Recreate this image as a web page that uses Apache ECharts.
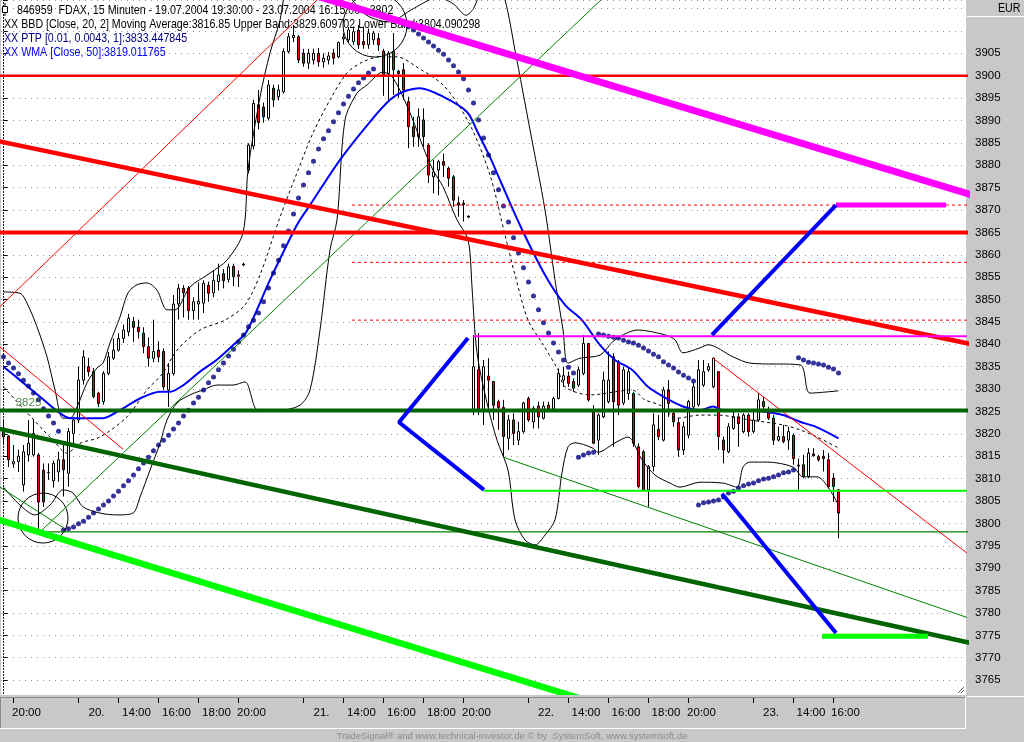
<!DOCTYPE html>
<html><head><meta charset="utf-8">
<script src="https://cdn.jsdelivr.net/npm/echarts@6/dist/echarts.min.js"></script>
<style>html,body{margin:0;padding:0;background:#c8c8c8;overflow:hidden}#c{width:1024px;height:742px}</style>
</head><body><div id="c"></div>
<script>
// ---------- DATA ----------
const barCount = 168;           // 15-minute bars shown
const slotCount = 193;          // category slots across the plot width (empty right margin)

const open = [3821.3,3819.5,3813.3,3813.8,3808.6,3815.3,3815.3,3815.3,3811.9,3811.3,
3809.5,3811.5,3814.2,3811.2,3820.1,3823.1,3832.0,3835.0,3833.9,3829.1,
3827.2,3833.5,3836.9,3838.7,3841.3,3842.8,3845.1,3843.8,3842.5,3839.5,
3836.9,3838.7,3838.4,3829.8,3833.5,3849.0,3852.5,3852.5,3847.5,3849.0,
3849.2,3853.2,3851.5,3854.0,3855.8,3854.5,3857.4,3855.2,3857.7,3878.9,
3884.3,3893.5,3893.0,3890.5,3897.2,3895.3,3896.4,3905.4,3908.5,3908.7,
3905.0,3902.8,3903.5,3905.0,3903.1,3903.5,3905.0,3904.2,3908.2,3908.0,
3907.6,3910.2,3907.6,3906.9,3908.0,3908.3,3905.5,3900.5,3905.4,3901.0,
3901.3,3894.2,3888.6,3886.4,3890.1,3884.5,3877.4,3878.9,3880.8,3879.3,
3877.4,3871.6,3871.5,3868.6,3825.3,3834.3,3825.3,3832.9,3831.7,3827.2,
3825.9,3819.0,3823.1,3818.6,3820.5,3827.9,3822.7,3826.2,3823.5,3826.4,
3825.5,3827.9,3832.0,3832.9,3831.7,3830.9,3833.5,3840.2,3825.3,3818.6,
3823.8,3827.2,3837.2,3836.1,3826.9,3829.0,3829.0,3817.1,3816.0,3807.5,
3812.7,3821.0,3818.6,3829.8,3824.6,3822.5,3816.4,3819.7,3826.0,3826.5,
3830.9,3834.3,3830.5,3833.9,3818.6,3816.0,3821.2,3823.8,3820.5,3824.2,
3820.5,3823.1,3827.2,3825.3,3823.5,3818.6,3819.4,3818.6,3819.7,3813.0,
3813.1,3810.5,3815.5,3814.9,3815.0,3814.2,3810.1,3807.5];
const close = [3819.3,3814.2,3813.8,3815.0,3816.0,3817.9,3820.1,3804.8,3804.8,3811.4,
3813.4,3814.2,3812.0,3820.5,3823.1,3832.0,3837.2,3833.9,3828.3,3826.8,
3833.5,3837.2,3838.7,3841.3,3843.2,3845.8,3843.8,3842.8,3839.5,3836.9,
3838.4,3837.2,3830.5,3833.5,3849.0,3852.5,3851.5,3847.5,3849.5,3849.6,
3853.6,3851.4,3854.3,3855.5,3854.2,3857.3,3855.1,3855.5,3857.9,3884.5,
3893.8,3889.5,3890.8,3897.9,3894.6,3896.8,3905.4,3908.7,3909.0,3903.5,
3902.8,3905.0,3905.0,3903.1,3903.9,3904.4,3903.9,3907.4,3908.6,3910.2,
3909.8,3906.9,3906.9,3909.5,3909.5,3906.9,3900.2,3905.0,3901.3,3900.5,
3896.8,3888.6,3886.4,3890.8,3886.4,3877.8,3878.5,3880.8,3880.0,3877.1,
3872.2,3871.1,3871.2,3868.4,3835.0,3825.3,3835.0,3832.0,3826.4,3825.9,
3819.4,3823.1,3820.1,3820.5,3826.9,3823.1,3825.7,3823.8,3826.2,3825.5,
3827.9,3833.5,3833.0,3831.3,3830.2,3834.3,3840.2,3827.6,3817.9,3824.2,
3832.0,3832.0,3827.2,3826.4,3834.3,3833.9,3817.9,3808.2,3807.5,3812.7,
3822.0,3819.4,3829.8,3826.8,3822.7,3816.4,3821.6,3827.2,3830.5,3834.3,
3833.9,3835.0,3836.9,3819.4,3816.4,3821.6,3823.8,3822.3,3824.2,3820.5,
3823.1,3827.6,3826.1,3823.5,3818.6,3819.4,3818.3,3820.5,3814.5,3812.8,
3810.5,3815.7,3815.1,3814.2,3814.5,3808.2,3808.2,3802.3];
const low = [3817.5,3812.6,3812.4,3811.5,3807.1,3813.8,3814.9,3798.5,3803.7,3809.7,
3808.0,3809.3,3806.0,3808.2,3817.9,3822.4,3831.0,3832.8,3828.0,3826.0,
3826.5,3833.1,3836.5,3838.4,3840.3,3841.8,3840.5,3841.3,3838.0,3835.0,
3836.0,3836.0,3829.8,3826.0,3833.0,3845.5,3846.0,3845.5,3845.5,3845.5,
3847.0,3849.5,3850.5,3852.0,3852.5,3853.8,3853.0,3852.8,3857.5,3878.2,
3883.5,3888.0,3889.5,3890.0,3893.0,3894.5,3896.0,3905.0,3907.5,3902.8,
3902.0,3901.5,3902.5,3902.0,3901.8,3902.5,3902.5,3903.9,3907.0,3907.4,
3906.9,3906.0,3906.0,3906.0,3906.9,3905.5,3895.5,3894.6,3895.7,3895.0,
3894.6,3883.8,3884.1,3884.1,3884.1,3876.0,3873.7,3873.3,3877.4,3875.2,
3870.7,3868.5,3867.4,3868.2,3824.2,3824.2,3822.0,3825.3,3823.1,3820.9,
3814.9,3816.4,3817.5,3817.5,3820.1,3822.7,3821.2,3821.2,3823.2,3825.2,
3825.2,3827.7,3830.5,3830.5,3829.4,3830.5,3833.1,3827.2,3817.7,3815.3,
3823.5,3826.8,3817.1,3824.2,3826.4,3827.6,3817.1,3807.8,3807.3,3803.7,
3811.6,3818.6,3818.3,3823.8,3821.6,3814.9,3815.3,3819.0,3825.0,3826.1,
3830.5,3833.9,3830.2,3816.4,3813.4,3815.7,3820.9,3817.1,3820.1,3819.4,
3820.1,3822.7,3825.3,3823.1,3817.5,3818.3,3817.9,3816.4,3813.1,3807.5,
3810.1,3810.1,3814.9,3813.8,3811.6,3807.8,3804.8,3796.7];
const high = [3823.1,3819.7,3817.5,3816.5,3817.5,3823.1,3823.1,3815.7,3813.4,3813.4,
3814.0,3816.0,3817.5,3821.3,3823.8,3835.0,3838.7,3837.0,3834.7,3829.4,
3834.0,3838.3,3841.3,3842.5,3844.4,3846.8,3846.1,3845.5,3843.8,3841.5,
3845.5,3840.7,3839.1,3835.8,3851.0,3853.5,3853.2,3853.0,3850.5,3853.8,
3854.3,3854.0,3856.5,3858.0,3856.8,3858.0,3858.0,3856.5,3858.2,3884.9,
3894.6,3896.8,3894.0,3899.0,3898.0,3898.0,3906.1,3909.5,3911.3,3909.1,
3906.0,3906.0,3906.0,3906.2,3905.0,3905.3,3906.0,3907.6,3909.5,3910.9,
3911.0,3911.3,3911.0,3910.5,3910.0,3909.5,3906.0,3905.5,3909.5,3901.3,
3902.8,3895.3,3890.8,3892.7,3892.7,3884.9,3881.2,3881.2,3882.6,3879.7,
3877.8,3873.0,3872.2,3868.8,3842.0,3842.5,3836.5,3836.9,3831.7,3827.6,
3827.6,3824.2,3824.6,3822.7,3827.2,3828.3,3826.2,3827.2,3827.2,3827.2,
3828.3,3834.6,3835.0,3833.9,3832.4,3835.0,3842.1,3840.2,3826.4,3824.6,
3833.9,3838.4,3838.0,3836.5,3835.0,3835.0,3829.4,3817.9,3816.4,3813.0,
3824.6,3824.2,3830.5,3832.0,3825.3,3823.5,3822.7,3827.6,3831.5,3836.5,
3836.5,3835.8,3837.0,3833.9,3819.4,3822.4,3825.0,3824.6,3824.6,3824.6,
3825.0,3829.1,3828.3,3826.1,3824.2,3821.6,3822.0,3821.6,3820.1,3814.5,
3815.3,3816.8,3816.8,3815.3,3816.4,3815.7,3811.2,3807.6];

// Parabolic SAR (PTP), one dot per bar
const sar = [3837.2,3835.8,3834.7,3833.4,3832.0,3830.7,3829.1,3827.6,3825.6,3824.0,3822.4,3820.6,
3798.5,3798.8,3799.2,3799.9,3800.5,3801.4,3802.3,3803.2,3804.1,3805.0,3806.1,3807.2,3808.4,3809.5,
3810.8,3812.2,3813.5,3814.8,3816.2,3817.5,3818.6,3819.7,3821.1,3822.4,3824.0,3825.3,3826.9,3828.2,
3829.8,3831.4,3832.7,3834.3,3835.8,3837.4,3838.9,3840.5,3842.1,3843.9,3845.4,3847.0,3849.5,3852.6,
3855.9,3858.8,3862.0,3865.3,3869.1,3872.7,3875.6,3878.3,3880.9,3883.6,3885.9,3887.7,3889.7,3891.7,
3893.7,3895.4,3897.0,3898.4,3899.5,3900.6,3901.5,
3914.0,3913.6,3913.1,3912.7,3912.2,3911.5,3910.9,3910.2,3909.3,3908.4,3907.5,3906.6,3905.7,3904.8,
3903.5,3902.2,3900.8,3899.3,3896.8,3893.9,3890.1,3886.1,3882.3,3878.3,3874.5,3870.9,3867.3,3863.8,
3860.4,3857.1,3853.9,3850.8,3847.7,3844.8,3842.5,3840.3,3838.3,3836.5,3834.9,3833.6,
3814.8,3815.3,3815.7,3815.9,
3842.3,3842.1,3841.8,3841.6,3841.4,3840.9,3840.5,3840.3,3839.8,3839.2,3838.5,3837.8,3837.2,3836.1,
3835.4,3834.7,3833.8,3833.1,3832.5,3831.8,
3804.1,3804.6,3804.8,3805.0,3805.2,3805.9,3806.8,3807.2,3807.9,3808.4,3808.8,3809.0,3809.5,3809.9,
3810.1,3810.4,3810.8,3811.3,3811.5,3811.9,
3837.0,3836.5,3836.0,3835.8,3835.6,3835.4,3834.9,3834.5,3833.6];

// Bollinger bands [bar, value]
const bbUpper = [[0,3851.7],[3.3,3851.4],[4.7,3849.2],[6.7,3843.9],[8.7,3837.2],[10.3,3829.8],[11.9,3823.5],[13.3,3823.5],[14.7,3826.0],[16.7,3831.4],[18.7,3834.7],[19.9,3835.8],[21.3,3840.3],[23.3,3846.1],[24.9,3851.5],[26.7,3853.3],[28.7,3853.7],[30.7,3852.1],[32.7,3847.7],[34.3,3847.7],[37.3,3852.8],[41.3,3855.9],[44.7,3858.8],[47.9,3864.9],[48.9,3878.9],[51.3,3895.2],[53.3,3905.1],[55.3,3912.4],[57.3,3925],[62,3935],[67,3922],[72,3914],[77,3912],[82,3915],[87,3917.5],[90,3916],[92.5,3913.5],[94,3915],[96,3920],[98.5,3921],[100.3,3916.9],[102.3,3905.7],[105.3,3887.9],[108.3,3870.0],[110.3,3854.4],[111.9,3843.2],[112.9,3835.8],[115.3,3836.9],[119.3,3837.6],[122.3,3841.0],[126.9,3843.2],[132.3,3842.1],[134.3,3841.0],[135.9,3838.1],[139.3,3839.2],[140.9,3839.9],[145.9,3837.2],[149.3,3835.8],[159.3,3835.4],[161.3,3829.1],[167,3829.61]];
const bbMiddle = [[0,3830.5],[7.9,3820.9],[9.9,3818.6],[12.7,3815.7],[15.3,3817.9],[19.3,3819.3],[24.7,3823.8],[28.7,3829.8],[31.9,3833.6],[34.7,3838.7],[39.3,3843.2],[44.3,3845.4],[48.3,3848.8],[51.3,3855.5],[55.3,3868.4],[58.7,3878.3],[61.9,3887.2],[65.3,3894.6],[68.7,3900.6],[71.9,3903.1],[75.3,3904.2],[78.7,3904.2],[82.7,3901.9],[88.3,3897.5],[93.3,3889.0],[97.3,3877.8],[100.3,3864.4],[102.3,3855.5],[104.9,3845.4],[107.7,3840.3],[110.9,3834.3],[112.3,3830.5],[117.3,3828.7],[125.7,3829.8],[128.3,3827.6],[131.3,3826.4],[134.7,3823.5],[139.3,3824.2],[142.7,3824.2],[149.3,3823.1],[155.9,3822.0],[159.3,3820.9],[162.7,3819.3],[167,3816.85]];
const bbLower = [[0,3808.1],[3.3,3804.1],[6.3,3801.9],[9.3,3804.1],[11.9,3807.5],[13.9,3806.8],[15.9,3803.7],[19.3,3802.3],[22.7,3801.9],[25.9,3802.3],[27.3,3805.9],[29.3,3811.9],[31.3,3817.9],[32.7,3823.1],[34.7,3826.9],[37.3,3828.7],[39.9,3829.8],[42.7,3830.9],[45.9,3830.9],[48.3,3831.6],[50.9,3825.3],[55.3,3825.3],[59.3,3826.4],[61.3,3829.8],[63.3,3843.2],[65.3,3861.1],[66.7,3867.8],[68.3,3890.1],[70.7,3896.1],[72.7,3897.9],[75.9,3900.8],[77.9,3899.5],[81.3,3891.7],[83.9,3884.1],[85.9,3878.9],[87.9,3875.2],[90.7,3867.8],[92.7,3864.0],[93.3,3860.4],[93.7,3852.8],[94.7,3838.1],[96.7,3826.9],[98.7,3818.6],[100.9,3811.9],[102.3,3800.8],[104.3,3796.3],[106.3,3795.2],[108.3,3797.4],[110.3,3800.8],[111.7,3811.3],[112.9,3817.1],[114.3,3818.0],[117.7,3816.9],[118.9,3815.9],[122.3,3818.0],[124.9,3819.3],[127.7,3814.2],[130.3,3810.8],[133.3,3809.0],[135.3,3808.1],[139.3,3809.2],[143.9,3809.0],[146.7,3808.1],[147.9,3812.6],[149.3,3813.7],[152.7,3813.7],[157.9,3812.6],[159.9,3810.4],[162.7,3810.4],[167,3804.09]];
// Weighted moving average (50)
const wma = [[0,3835.0],[3.3,3832.0],[7.3,3828.3],[11.3,3824.6],[13.3,3823.5],[17.3,3823.5],[19.9,3823.5],[23.3,3825.3],[27.3,3827.9],[31.3,3829.4],[33.3,3829.4],[36.0,3830.9],[39.3,3833.9],[42.6,3836.5],[45.9,3839.8],[48.6,3842.8],[53.3,3854.4],[58.0,3865.2],[59.3,3867.8],[61.3,3871.1],[67.3,3881.2],[73.3,3889.7],[77.3,3894.6],[79.9,3896.4],[83.3,3897.2],[87.9,3895.3],[92.7,3891.9],[94.9,3887.2],[97.3,3881.8],[99.3,3876.7],[103.3,3866.6],[108.3,3855.5],[112.3,3848.8],[115.7,3845.4],[119.3,3839.8],[122.3,3836.5],[125.7,3834.3],[128.9,3830.5],[132.6,3827.9],[135.9,3826.1],[139.3,3825.3],[141.9,3826.1],[143.9,3825.3],[149.3,3825.2],[152.6,3824.9],[155.9,3824.2],[159.3,3822.7],[162.6,3821.5],[167,3819.01]];

// Drawn lines: [bar, price] end points
const magentaDiag   = [[60,3918.7],[195,3872.9]];
const magentaShort  = [[166.5,3871.1],[188.5,3871.1]];
const magentaLevel  = [[93.9,3841.8],[195,3841.8]];
const redLevel      = [[-2,3865.0],[195,3865.0]];
const redTopLevel   = [[-2,3900.0],[195,3900.0]];
const redDiag       = [[-2,3885.6],[195,3839.7]];
const redThinUp     = [[-2,3847.0],[64,3918.3]];
const redThinDown   = [[-2,3840.6],[23.9,3816.6]];
const redThinRight  = [[141.9,3836.9],[195,3791.4]];
const redDash1      = [[69.7,3871.1],[195,3871.1]];
const redDash2      = [[69.7,3858.3],[195,3858.3]];
const redDash3      = [[69.7,3845.4],[195,3845.4]];
const greenLevel    = [[-2,3825.2],[195,3825.2]];
const greenDiag     = [[-2,3821.4],[195,3772.9]];
const greenThinLevel= [[7.3,3798.1],[195,3798.1]];
const greenThinUp   = [[7.3,3798.1],[121,3918.5]];
const greenThinDown = [[99.9,3814.8],[195,3778.1]];
const greenThinLeft = [[-0.7,3808.1],[12,3799.0]];
const limeDiag      = [[-2,3801.2],[120,3759.3]];
const limeLevel     = [[96.1,3807.3],[195,3807.3]];
const limeShort     = [[163.7,3774.8],[184.9,3774.8]];
const blueZigzag    = [[92.9,3841.4],[79.1,3822.6],[96.1,3807.5]];
const blueUp        = [[141.7,3842.1],[166.5,3871.1]];
const blueDown      = [[143.7,3806.6],[166.5,3775.5]];
const circles       = [[7.9,3801.2,5.0],[74.3,3911.3,6.4]];   // centre bar, centre price, radius in bars
const levelLabel    = [[5.0,3826.9]];

// Axis texts
const tickIdx   = [2,15,23,31,39,47,60,68,76,84,92,105,113,121,129,137,150,158,166];
const labelPos  = [4.6,18.6,26.6,34.6,42.6,49.6,63.6,71.6,79.6,87.6,94.6,108.5,116.5,124.5,132.5,139.6,153.5,161.5,168.4];
const labelText = ['20:00','20.','14:00','16:00','18:00','20:00','21.','14:00','16:00','18:00','20:00','22.','14:00','16:00','18:00','20:00','23.','14:00','16:00'];
const headerLines = [
  '846959  FDAX, 15 Minuten - 19.07.2004 19:30:00 - 23.07.2004 16:15:00 - 3802',
  'XX BBD [Close, 20, 2] Moving Average:3816.85 Upper Band:3829.609702 Lower Band:3804.090298',
  'XX PTP [0.01, 0.0043, 1]:3833.447845',
  'XX WMA [Close, 50]:3819.011765'
];

// ---------- CHART ----------
const GRAY = '#c8c8c8';
const FONT = '"Liberation Sans", Arial, sans-serif';
const slots = Array.from({length: slotCount}, (_, i) => String(i));
const ohlc = open.map((o, i) => [o, close[i], low[i], high[i]]);

function seg(data, color, width, type, z) {
  return {type: 'line', xAxisIndex: 1, yAxisIndex: 0, data: data, symbol: 'none', showSymbol: false,
    silent: true, animation: false, clip: true, z: z || 5,
    lineStyle: {color: color, width: width, type: type || 'solid', cap: 'butt'}};
}
function curve(data, color, width, type) {
  const s = seg(data, color, width, type, 3);
  s.smooth = 0.3;
  return s;
}
function narrowText(x, y, text, fill, extra) {
  return Object.assign({type: 'text', x: x, y: y, scaleX: 0.82, scaleY: 1,
    style: {text: text, fill: fill, font: '13px ' + FONT, textVerticalAlign: 'middle'}, z: 2}, extra || {});
}

const chart = echarts.init(document.getElementById('c'), null, {renderer: 'canvas'});
chart.setOption({
  animation: false,
  backgroundColor: GRAY,
  grid: [
    {left: 1, top: 0, width: 965, height: 702.5, show: true, backgroundColor: '#ffffff', borderWidth: 0},
    {left: 1, top: 697, width: 965, height: 1, show: false}
  ],
  xAxis: [
    {type: 'category', gridIndex: 0, data: slots, show: false, boundaryGap: true},
    {type: 'value', gridIndex: 0, min: -0.5, max: slotCount - 0.5, show: false},
    {type: 'value', gridIndex: 1, min: -0.5, max: slotCount - 0.5, position: 'bottom', z: 120,
      axisLine: {show: false}, splitLine: {show: false},
      axisTick: {show: true, customValues: tickIdx, length: 5, lineStyle: {color: '#000', width: 1}},
      axisLabel: {show: true, customValues: labelPos, margin: 9, color: '#000', fontSize: 11.5, fontFamily: FONT,
        formatter: function (v) { const k = labelPos.findIndex(p => Math.abs(p - v) < 0.01); return k >= 0 ? labelText[k] : ''; }}}
  ],
  yAxis: [
    {type: 'value', gridIndex: 0, position: 'right', offset: 3, min: 3760, max: 3916.9, interval: 5,
      axisLine: {show: true, lineStyle: {color: '#000', width: 1, type: [1, 2]}},
      axisTick: {show: true, length: 4, lineStyle: {color: '#000'}},
      axisLabel: {margin: 6, color: '#000', fontSize: 11.5, fontFamily: FONT,
        formatter: function (v) { return (v >= 3765 && v <= 3905 && Math.abs(v % 5) < 0.001) ? String(v) : ''; }},
      splitLine: {show: true, lineStyle: {color: '#9a9a9a', width: 1, type: [1, 5]}}},
    {type: 'value', gridIndex: 1, show: false}
  ],
  series: [
    {type: 'candlestick', xAxisIndex: 0, yAxisIndex: 0, data: ohlc, barWidth: 3, z: 1, silent: true,
      itemStyle: {color: '#ffffff', color0: '#ff0000', borderColor: '#000000', borderColor0: '#000000', borderWidth: 1}},
    curve(bbUpper, '#000000', 1),
    curve(bbLower, '#000000', 1),
    curve(bbMiddle, '#000000', 1, [3, 3]),
    curve(wma, '#0000ff', 2),
    {type: 'scatter', xAxisIndex: 0, yAxisIndex: 0, data: sar, symbol: 'circle', symbolSize: 5, z: 3, silent: true,
      itemStyle: {color: '#000080'}},
    seg(redDash1, '#ff0000', 1, [3, 3], 4),
    seg(redDash2, '#ff0000', 1, [3, 3], 4),
    seg(redDash3, '#ff0000', 1, [3, 3], 4),
    seg(greenThinUp, '#008000', 1),
    seg(greenThinDown, '#008000', 1),
    seg(greenThinLeft, '#008000', 1),
    seg(greenThinLevel, '#008000', 1.3),
    seg(redThinUp, '#ff0000', 1),
    seg(redThinDown, '#ff0000', 1),
    seg(redThinRight, '#ff0000', 1),
    seg(redTopLevel, '#ff0000', 2.5),
    seg(redLevel, '#ff0000', 4),
    seg(redDiag, '#ff0000', 4.5),
    seg(greenLevel, '#006400', 4),
    seg(greenDiag, '#006400', 4.5),
    seg(limeLevel, '#00ff00', 2),
    seg(limeDiag, '#00ff00', 6.5),
    seg(limeShort, '#00ff00', 5),
    seg(magentaLevel, '#ff00ff', 2),
    seg(magentaDiag, '#ff00ff', 7),
    seg(magentaShort, '#ff00ff', 5),
    seg(blueZigzag, '#0000ff', 4),
    seg(blueUp, '#0000ff', 4),
    seg(blueDown, '#0000ff', 4),
    {type: 'custom', xAxisIndex: 1, yAxisIndex: 0, data: circles, z: 5, silent: true, clip: true,
      renderItem: function (params, api) {
        const c = api.coord([api.value(0), api.value(1)]);
        const r = api.size([api.value(2), 0])[0];
        return {type: 'circle', shape: {cx: c[0], cy: c[1], r: r}, style: {fill: null, stroke: '#000', lineWidth: 1}};
      }},
    {type: 'scatter', xAxisIndex: 1, yAxisIndex: 0, data: levelLabel, symbolSize: 0, z: 6, silent: true,
      label: {show: true, position: 'inside', formatter: '3825', color: '#2a6e2a', fontSize: 11.5, fontFamily: FONT}}
  ],
  graphic: [
    // header
    {type: 'rect', shape: {x: 2.5, y: 6.5, width: 5, height: 6}, style: {fill: '#fff', stroke: '#000', lineWidth: 1}, z: 2},
    {type: 'line', shape: {x1: 5, y1: 3, x2: 5, y2: 6.5}, style: {stroke: '#000', lineWidth: 1}, z: 2},
    {type: 'line', shape: {x1: 5, y1: 12.5, x2: 5, y2: 16}, style: {stroke: '#000', lineWidth: 1}, z: 2},
    narrowText(17, 10, headerLines[0], '#000'),
    narrowText(4, 24, headerLines[1], '#000'),
    narrowText(4, 38, headerLines[2], '#000080'),
    narrowText(4, 52, headerLines[3], '#0000ff'),
    // bottom covers and x-axis panel
    {type: 'rect', shape: {x: 0, y: 695, width: 1024, height: 47}, style: {fill: GRAY}, z: 100},
    {type: 'line', shape: {x1: 0, y1: 697.5, x2: 965, y2: 697.5}, style: {stroke: '#8c8c8c', lineWidth: 1}, z: 101},
    {type: 'line', shape: {x1: 0.5, y1: 697, x2: 0.5, y2: 729}, style: {stroke: '#8c8c8c', lineWidth: 1}, z: 101},
    {type: 'line', shape: {x1: 0, y1: 728.5, x2: 966, y2: 728.5}, style: {stroke: '#ffffff', lineWidth: 1}, z: 101},
    {type: 'line', shape: {x1: 965.5, y1: 697, x2: 965.5, y2: 729}, style: {stroke: '#ffffff', lineWidth: 1}, z: 101},
    {type: 'line', shape: {x1: 967, y1: 696.5, x2: 1024, y2: 696.5}, style: {stroke: '#ffffff', lineWidth: 1}, z: 101},
    {type: 'text', x: 512, y: 736, style: {text: 'TradeSignal\u00AE and www.technical-investor.de \u00A9 by  SystemSoft, www.systemsoft.de', fill: '#8c8c8c', font: '9.5px ' + FONT, textAlign: 'center', textVerticalAlign: 'middle'}, z: 101},
    // plot size grip
    {type: 'line', shape: {x1: 958, y1: 693, x2: 964, y2: 687}, style: {stroke: '#555', lineWidth: 1}, z: 99},
    {type: 'line', shape: {x1: 961, y1: 693, x2: 964, y2: 690}, style: {stroke: '#555', lineWidth: 1}, z: 99},
    // EUR box
    {type: 'rect', shape: {x: 967, y: 0, width: 57, height: 17}, style: {fill: GRAY}, z: 100},
    {type: 'line', shape: {x1: 967, y1: 16.5, x2: 1024, y2: 16.5}, style: {stroke: '#ffffff', lineWidth: 1}, z: 101},
    {type: 'text', x: 998, y: 8, scaleX: 0.82, style: {text: 'EUR', fill: '#000', font: '13px ' + FONT, textVerticalAlign: 'middle'}, z: 101}
  ]
});
</script>
</body></html>
